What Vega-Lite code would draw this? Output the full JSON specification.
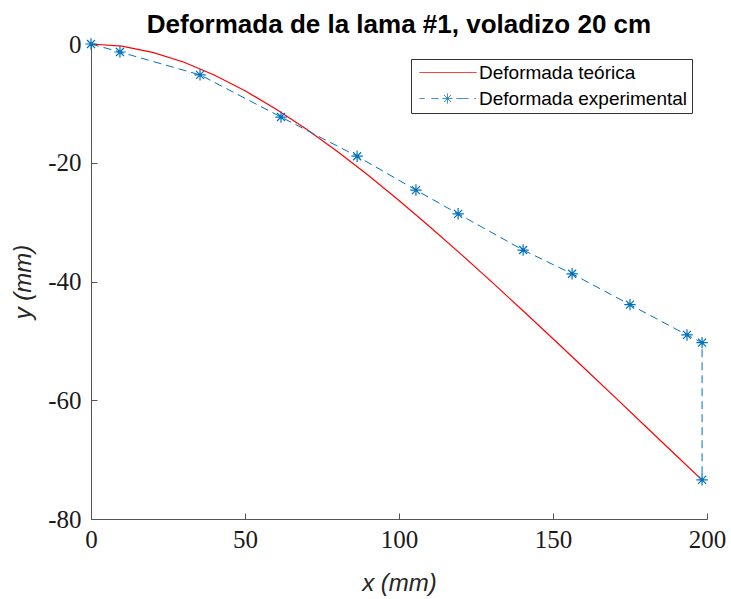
{
  "$schema": "https://vega.github.io/schema/vega-lite/v6.json",
  "autosize": {"type": "none"},
  "width": 616,
  "height": 475,
  "padding": {"left": 91, "top": 44, "right": 24, "bottom": 80},
  "background": "white",
  "title": {
    "text": "Deformada de la lama #1, voladizo 20 cm",
    "font": "Liberation Sans",
    "fontSize": 26,
    "fontWeight": "bold",
    "color": "#000000",
    "anchor": "middle",
    "offset": 0,
    "dy": 6
  },
  "config": {
    "view": {"stroke": null},
    "axis": {
      "grid": false,
      "domainColor": "#555555",
      "tickColor": "#555555",
      "tickSize": -6,
      "labelFlush": false,
      "labelFont": "Liberation Serif",
      "labelFontSize": 25,
      "labelColor": "#1a1a1a",
      "titleFont": "Liberation Sans",
      "titleFontStyle": "italic",
      "titleFontWeight": "normal",
      "titleFontSize": 24,
      "titleColor": "#262626"
    }
  },
  "datasets": {
    "teo": [
      {"x": 0, "y": 0, "serie": "Deformada teórica"},
      {"x": 10, "y": -0.36, "serie": "Deformada teórica"},
      {"x": 20, "y": -1.4, "serie": "Deformada teórica"},
      {"x": 30, "y": -3.03, "serie": "Deformada teórica"},
      {"x": 40, "y": -5.21, "serie": "Deformada teórica"},
      {"x": 50, "y": -7.86, "serie": "Deformada teórica"},
      {"x": 60, "y": -10.93, "serie": "Deformada teórica"},
      {"x": 70, "y": -14.36, "serie": "Deformada teórica"},
      {"x": 80, "y": -18.11, "serie": "Deformada teórica"},
      {"x": 90, "y": -22.12, "serie": "Deformada teórica"},
      {"x": 100, "y": -26.36, "serie": "Deformada teórica"},
      {"x": 110, "y": -30.78, "serie": "Deformada teórica"},
      {"x": 120, "y": -35.34, "serie": "Deformada teórica"},
      {"x": 130, "y": -40.03, "serie": "Deformada teórica"},
      {"x": 140, "y": -44.8, "serie": "Deformada teórica"},
      {"x": 150, "y": -49.64, "serie": "Deformada teórica"},
      {"x": 160, "y": -54.53, "serie": "Deformada teórica"},
      {"x": 170, "y": -59.44, "serie": "Deformada teórica"},
      {"x": 180, "y": -64.37, "serie": "Deformada teórica"},
      {"x": 190, "y": -69.3, "serie": "Deformada teórica"},
      {"x": 198.5, "y": -73.5, "serie": "Deformada teórica"}
    ],
    "exp": [
      {"i": 0, "x": 0, "y": 0, "serie": "Deformada experimental"},
      {"i": 1, "x": 9.4, "y": -1.35, "serie": "Deformada experimental"},
      {"i": 2, "x": 35.4, "y": -5.2, "serie": "Deformada experimental"},
      {"i": 3, "x": 61.7, "y": -12.3, "serie": "Deformada experimental"},
      {"i": 4, "x": 86.4, "y": -18.9, "serie": "Deformada experimental"},
      {"i": 5, "x": 105.5, "y": -24.6, "serie": "Deformada experimental"},
      {"i": 6, "x": 119.2, "y": -28.6, "serie": "Deformada experimental"},
      {"i": 7, "x": 140.3, "y": -34.7, "serie": "Deformada experimental"},
      {"i": 8, "x": 156.2, "y": -38.7, "serie": "Deformada experimental"},
      {"i": 9, "x": 175, "y": -43.9, "serie": "Deformada experimental"},
      {"i": 10, "x": 193.5, "y": -49, "serie": "Deformada experimental"},
      {"i": 11, "x": 198.4, "y": -50.3, "serie": "Deformada experimental"},
      {"i": 12, "x": 198.4, "y": -73.4, "serie": "Deformada experimental"}
    ]
  },
  "encoding": {
    "x": {
      "field": "x", "type": "quantitative",
      "scale": {"domain": [0, 200], "nice": false},
      "axis": {"title": "x (mm)", "values": [0, 50, 100, 150, 200], "labelPadding": 14, "titlePadding": 19, "labelExpr": "'' + datum.value"}
    },
    "y": {
      "field": "y", "type": "quantitative",
      "scale": {"domain": [-80, 0], "nice": false, "zero": false},
      "axis": {"title": "y (mm)", "values": [0, -20, -40, -60, -80], "labelPadding": 16, "titlePadding": 12, "labelExpr": "'' + datum.value"}
    }
  },
  "layer": [
    {
      "data": {"name": "teo"},
      "mark": {"type": "line", "strokeWidth": 1.2},
      "encoding": {
        "color": {
          "field": "serie", "type": "nominal",
          "scale": {"domain": ["Deformada teórica", "Deformada experimental"], "range": ["#ff0000", "#0072bd"]},
          "legend": {
            "title": null,
            "orient": "top-right",
            "offset": 15,
            "fillColor": "white",
            "strokeColor": "#333333",
            "padding": 4,
            "labelFont": "Liberation Sans",
            "labelFontSize": 19,
            "labelColor": "#000000",
            "labelLimit": 400,
            "labelOffset": 45,
            "rowPadding": 6,
            "symbolSize": 100,
            "symbolStrokeWidth": 1,
            "encode": {
              "symbols": {
                "update": {
                  "shape": {"signal": "datum.value === 'Deformada experimental' ? 'M-1,0H0M1.4,0H2.8M3.6,0H5.6M4.6,-1V1M3.9,-0.7L5.3,0.7M3.9,0.7L5.3,-0.7M6.4,0H8.8M10,0H10.3' : 'M-1,0H10.4'"},
                  "strokeDash": {"value": [1, 0]},
                  "fill": {"value": "transparent"}
                }
              }
            }
          }
        }
      }
    },
    {
      "data": {"name": "exp"},
      "mark": {"type": "line", "strokeWidth": 1, "strokeDash": [8, 5]},
      "encoding": {
        "color": {"field": "serie", "type": "nominal"},
        "order": {"field": "i", "type": "quantitative"}
      }
    },
    {
      "data": {"name": "exp"},
      "mark": {
        "type": "point",
        "shape": "M-1,0H1M0,-1V1M-0.7,-0.7L0.7,0.7M-0.7,0.7L0.7,-0.7",
        "size": 130,
        "filled": false,
        "color": "#0072bd",
        "strokeWidth": 1.2,
        "opacity": 1
      }
    }
  ]
}
